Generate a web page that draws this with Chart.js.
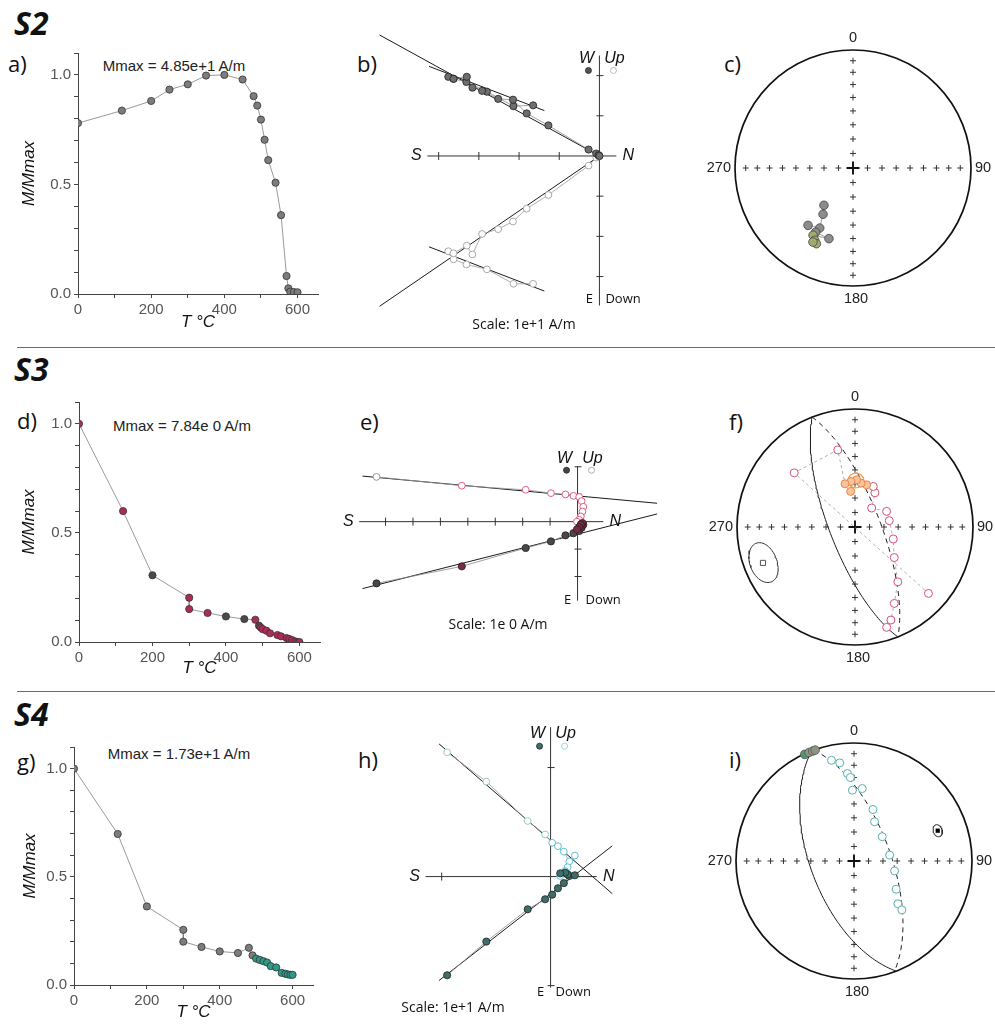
<!DOCTYPE html>
<html>
<head>
<meta charset="utf-8">
<script src="https://cdn.jsdelivr.net/npm/chart.js@4.4.0/dist/chart.umd.min.js"></script>
<style>
  body { margin: 0; background: #fff; }
  #page { position: relative; width: 995px; height: 1025px; overflow: hidden; }
  canvas { position: absolute; }
  .lbl { position: absolute; font-family: "Open Sans", sans-serif; color: #111; white-space: nowrap; line-height: 1; }
  .sec { font-weight: 700; font-style: italic; font-size: 32px; }
  .pan { font-size: 22px; }
  .mmax { font-family: "Liberation Sans", Arial, sans-serif; font-size: 15px; color: #222; transform: translate(-50%, -50%); }
  .rule { position: absolute; left: 17px; right: 0; height: 1px; background: #6a6a6a; }
</style>
</head>
<body>
<div id="page">
  <div class="lbl sec" style="left:14px;top:7px">S2</div>
  <div class="lbl sec" style="left:14px;top:353px">S3</div>
  <div class="lbl sec" style="left:14px;top:698px">S4</div>
  <div class="rule" style="top:347px"></div>
  <div class="rule" style="top:691px"></div>

  <div class="lbl pan" style="left:8px;top:52px">a)</div>
  <div class="lbl pan" style="left:357px;top:52px">b)</div>
  <div class="lbl pan" style="left:724px;top:52px">c)</div>
  <div class="lbl pan" style="left:17px;top:409px">d)</div>
  <div class="lbl pan" style="left:360px;top:410px">e)</div>
  <div class="lbl pan" style="left:729px;top:410px">f)</div>
  <div class="lbl pan" style="left:17px;top:750px">g)</div>
  <div class="lbl pan" style="left:358px;top:748px">h)</div>
  <div class="lbl pan" style="left:729px;top:748px">i)</div>

  <div class="lbl mmax" style="left:174px;top:65px">Mmax = 4.85e+1 A/m</div>
  <div class="lbl mmax" style="left:182px;top:425px">Mmax = 7.84e 0 A/m</div>
  <div class="lbl mmax" style="left:179px;top:753px">Mmax = 1.73e+1 A/m</div>

  <canvas id="cA"></canvas><canvas id="cB"></canvas><canvas id="cC"></canvas>
  <canvas id="cD"></canvas><canvas id="cE"></canvas><canvas id="cF"></canvas>
  <canvas id="cG"></canvas><canvas id="cH"></canvas><canvas id="cI"></canvas>
</div>
<script>
const D2R = Math.PI / 180;

// ---- thermal demagnetisation curves: temperature (°C) and M/Mmax
const aTemp = [0, 120, 200, 250, 300, 350, 400, 450, 480, 490, 500, 510, 520, 540, 555, 570, 575, 580, 590, 600];
const aMag  = [0.78, 0.837, 0.881, 0.933, 0.957, 0.997, 1.0, 0.979, 0.903, 0.86, 0.796, 0.704, 0.611, 0.508, 0.36, 0.082, 0.026, 0.011, 0.009, 0.008];
const dTemp = [0, 120, 200, 300, 300, 350, 400, 450, 480, 490, 495, 500, 510, 520, 540, 550, 565, 572, 580, 588, 594, 600];
const dMag  = [1.0, 0.60, 0.306, 0.203, 0.151, 0.133, 0.117, 0.105, 0.102, 0.075, 0.066, 0.059, 0.052, 0.040, 0.032, 0.026, 0.018, 0.014, 0.009, 0.003, 0.0, 0.0];
const gTemp = [0, 120, 200, 300, 300, 350, 400, 450, 480, 490, 500, 510, 520, 530, 540, 555, 570, 580, 587, 594, 600];
const gMag  = [1.0, 0.698, 0.363, 0.255, 0.20, 0.176, 0.155, 0.148, 0.172, 0.137, 0.122, 0.116, 0.110, 0.104, 0.087, 0.081, 0.056, 0.052, 0.049, 0.047, 0.047];

// ---- Zijderveld components (in units of the scale bar): North, West, Up
const bNorth = [-1.65, -2.14, -2.80, -3.31, -3.63, -3.76, -3.63, -3.30, -3.16, -2.92, -2.52, -2.15, -1.81, -1.27, -0.27, -0.08, -0.02, 0.0];
const bWest  = [1.26, 1.24, 1.60, 1.84, 1.92, 1.97, 1.92, 1.97, 1.70, 1.62, 1.42, 1.40, 1.06, 0.76, 0.16, 0.06, 0.02, 0.0];
const bUp    = [-3.18, -3.18, -2.82, -2.70, -2.57, -2.37, -2.42, -2.23, -2.45, -1.94, -1.82, -1.63, -1.31, -0.97, -0.24, -0.04, -0.01, 0.0];
const bFits  = [[-5.47, 3.01, 0, 0], [-4.24, 2.23, -1.37, 1.13], [-5.47, -3.74, 0, 0], [-4.24, -2.26, -1.37, -3.36]];

const eNorth = [-7.33, -4.22, -1.89, -0.97, -0.44, -0.15, 0.06, 0.15, 0.21, 0.18, 0.12, 0.06, -0.02];
const eWest  = [-2.25, -1.63, -0.96, -0.72, -0.50, -0.42, -0.34, -0.22, -0.11, -0.05, -0.10, -0.20, -0.28];
const eUp    = [1.63, 1.31, 1.16, 1.04, 0.99, 0.94, 0.90, 0.75, 0.54, 0.37, 0.19, 0.07, 0.0];
const eFits  = [[-7.84, 1.66, 2.9, 0.67], [-7.84, -2.44, 2.9, 0.28]];

const hNorth = [-0.95, -0.59, -0.21, -0.05, 0.015, 0.068, 0.122, 0.172, 0.223, 0.157, 0.134, 0.089];
const hWest  = [-0.905, -0.596, -0.30, -0.208, -0.166, -0.107, -0.06, 0.006, 0.012, 0.02, 0.036, 0.03];
const hUp    = [1.14, 0.872, 0.51, 0.386, 0.31, 0.279, 0.228, 0.139, 0.193, 0.086, 0.05, 0.006];
const hFits  = [[-1.024, 1.217, 0.567, -0.157], [-1.024, -0.953, 0.567, 0.282]];

// ---- equal-area directions: declination / inclination (negative = upper hemisphere)
const cDec = [217.9, 212.9, 209.0, 218.1, 210.2, 198.8, 210.7, 207.9, 205.8, 208.4];
const cInc = [57.1, 51.4, 41.4, 38.2, 37.1, 36.9, 34.1, 31.3, 29.5, 29.4];

const fDec = [162.5, 158.9, 152.8, 142.0, 127.9, 107.4, 79.5, 63.7, 41.2, 30.2, 24.3, 15.4, 7.8, 2.0, 355.0, 353.1, 347.0, 347.4, 311.7, 132.1];
const fInc = [-11.8, -16.6, -28.0, -40.7, -55.3, -62.2, -65.9, -65.6, -72.6, -62.5, -59.1, -59.6, -59.2, -57.1, -58.2, -65.2, -59.2, -33.5, -31.6, -17.2];
const fMean = [1.2, -57.6, 5.2];          // dec, inc, a95
const fPole = [248.7, -17.4, 11.5];       // dec, inc, a95
const fCircle = [68.7, 17.4];             // pole of fitted plane

const iFilledDec = [335.2, 337.5, 339.4, 340.7];
const iFilledInc = [0.5, 0.5, 0.5, 0.5];
const iOpenDec = [347.4, 351.7, 355.7, 357.5, 358.7, 6.5, 20.2, 27.7, 49.3, 80.5, 103.8, 123.8, 134.3, 135.6];
const iOpenInc = [-13.6, -17.1, -26.6, -29.9, -39.8, -38.2, -51.6, -59.2, -64.2, -65.0, -61.0, -54.6, -46.9, -41.6];
const iPole = [70.1, 25.5, 3.6];
const iCircleSolid = [69.0, 30.0];
const iCircleDashed = [70.1, 25.5];

// ---------------------------------------------------------------------------
const tickFont = { family: 'Liberation Sans', size: 15 };
const titleFont = { family: 'Liberation Sans', size: 17, style: 'italic' };

function demagChart(id, temps, mags, box, colorFn) {
  const cv = document.getElementById(id);
  const top = box.top - 13, bottom = box.titleY + 16;
  cv.width = 330; cv.height = bottom - top;
  cv.style.left = '0px'; cv.style.top = top + 'px';
  new Chart(cv, {
    type: 'scatter',
    data: { datasets: [{
      data: temps.map((t, i) => ({ x: t, y: mags[i] })),
      showLine: true, borderColor: '#808080', borderWidth: 0.8,
      pointRadius: 3.6, pointBorderWidth: 0.8, pointBorderColor: '#333',
      pointBackgroundColor: colorFn
    }] },
    options: {
      responsive: false, animation: false,
      layout: { padding: { top: 13, right: 330 - box.right, left: 0, bottom: 0 } },
      plugins: { legend: { display: false }, tooltip: { enabled: false } },
      scales: {
        x: {
          min: 0, max: 656,
          afterFit: s => { s.height = bottom - box.bottom; },
          ticks: { stepSize: 100, includeBounds: false, autoSkip: false, maxRotation: 0, padding: 3, color: '#555', font: tickFont,
                   callback: v => (v % 200 === 0 ? v : '') },
          grid: { drawOnChartArea: false, tickLength: 4, color: '#444' },
          border: { color: '#444' },
          title: { display: true, text: 'T °C', color: '#111', font: titleFont, padding: { top: 0, bottom: 5.8 } }
        },
        y: {
          min: 0, max: 1.1,
          afterFit: s => { s.width = box.left; },
          ticks: { stepSize: 0.1, includeBounds: false, autoSkip: false, padding: 3, color: '#555', font: tickFont,
                   callback: v => (Math.round(v * 10) % 5 === 0 ? v.toFixed(1) : '') },
          grid: { drawOnChartArea: false, tickLength: 4, color: '#444' },
          border: { color: '#444' },
          title: { display: true, text: 'M/Mmax', color: '#111', font: titleFont, padding: { top: box.titleX - 10.2, bottom: 0 } }
        }
      }
    }
  });
}

demagChart('cA', aTemp, aMag, { left: 78, top: 53, bottom: 294, right: 318, titleY: 322, titleX: 29 }, '#7c7c7c');
demagChart('cD', dTemp, dMag, { left: 79, top: 402, bottom: 642, right: 320, titleY: 668, titleX: 29 },
  c => ([200, 400, 450, 490].includes(c.raw.x) ? '#4a4a4a' : '#b02a58'));
demagChart('cG', gTemp, gMag, { left: 74, top: 747, bottom: 985, right: 313, titleY: 1012, titleX: 30 },
  c => (c.raw.x >= 500 ? '#2f9a88' : '#7c7c7c'));

// ---------------------------------------------------------------------------
const zijAxes = {
  id: 'zijAxes',
  beforeDatasetsDraw(chart, args, o) {
    const { ctx, scales: { x, y } } = chart;
    const px = v => x.getPixelForValue(v), py = v => y.getPixelForValue(v);
    const x0 = px(0), y0 = py(0);
    const left = px(o.h[0]), right = px(o.h[1]), top = py(o.v[1]), bot = py(o.v[0]);
    ctx.save();
    ctx.strokeStyle = '#333'; ctx.lineWidth = 1;
    ctx.beginPath();
    ctx.moveTo(left, y0); ctx.lineTo(right, y0);
    ctx.moveTo(x0, top); ctx.lineTo(x0, bot);
    for (let t = Math.ceil(o.h[0]); t <= o.h[1]; t++) if (t) { ctx.moveTo(px(t), y0 - 4); ctx.lineTo(px(t), y0 + 4); }
    for (let t = Math.ceil(o.v[0]); t <= o.v[1]; t++) if (t) { ctx.moveTo(x0 - 3, py(t)); ctx.lineTo(x0 + 4, py(t)); }
    ctx.stroke();

    ctx.fillStyle = '#111'; ctx.textBaseline = 'middle'; ctx.textAlign = 'center';
    ctx.font = 'italic 16px "Liberation Sans"';
    ctx.fillText('S', left - 11, y0);
    ctx.fillText('N', right + 12, y0);
    ctx.fillText('W', x0 - 13, top + o.lab[0]);
    ctx.fillText('Up', x0 + 15, top + o.lab[0]);
    ctx.font = '13px "Open Sans"';
    ctx.fillText('E', x0 - 10, bot + o.lab[2]);
    ctx.textAlign = 'left';
    ctx.fillText('Down', x0 + o.lab[3], bot + o.lab[2]);
    ctx.textAlign = 'center';
    ctx.font = '14px "Open Sans"';
    ctx.fillText(o.scaleText, o.scalePos[0], o.scalePos[1]);

    ctx.lineWidth = 0.8;
    ctx.beginPath(); ctx.arc(x0 - 11, top + o.lab[1], 3, 0, 2 * Math.PI);
    ctx.fillStyle = o.fill; ctx.fill(); ctx.strokeStyle = '#222'; ctx.stroke();
    ctx.beginPath(); ctx.arc(x0 + 14, top + o.lab[1], 3, 0, 2 * Math.PI);
    ctx.fillStyle = '#fff'; ctx.fill(); ctx.strokeStyle = o.open; ctx.stroke();
    ctx.restore();
  }
};

function zijChart(id, o) {
  const cv = document.getElementById(id);
  cv.width = o.w; cv.height = o.h;
  cv.style.left = o.left + 'px'; cv.style.top = o.top + 'px';
  const ox = o.ox - o.left, oy = o.oy - o.top;
  const fits = o.fits.map(f => ({
    data: [{ x: f[0], y: f[1] }, { x: f[2], y: f[3] }],
    showLine: true, borderColor: '#1a1a1a', borderWidth: 1, pointRadius: 0, order: 3
  }));
  new Chart(cv, {
    type: 'scatter',
    data: { datasets: [
      { data: o.N.map((n, i) => ({ x: n, y: o.W[i] })), showLine: true, borderColor: '#8a8a8a', borderWidth: 0.8,
        pointRadius: 3.6, pointBorderWidth: 0.8, pointBorderColor: '#222', pointBackgroundColor: o.fillFn, order: 0 },
      { data: o.N.map((n, i) => ({ x: n, y: o.Up[i] })), showLine: true, borderColor: '#9a9a9a', borderWidth: 0.8,
        pointRadius: 3.4, pointBorderWidth: 1, pointBorderColor: o.openFn, pointBackgroundColor: '#fff', order: 1 },
      ...fits
    ] },
    options: {
      responsive: false, animation: false, layout: { padding: 0 },
      plugins: {
        legend: { display: false }, tooltip: { enabled: false },
        zijAxes: { h: o.hAxis, v: o.vAxis, lab: o.lab, fill: o.legendFill, open: o.legendOpen, scaleText: o.scaleText, scalePos: o.scalePos }
      },
      scales: {
        x: { display: false, min: -ox / o.unit, max: (o.w - ox) / o.unit },
        y: { display: false, min: -(o.h - oy) / o.unit, max: oy / o.unit }
      }
    },
    plugins: [zijAxes]
  });
}

zijChart('cB', {
  left: 330, top: 0, w: 330, h: 330, ox: 602.7, oy: 155.7, unit: 41.45,
  N: bNorth, W: bWest, Up: bUp, fits: bFits, hAxis: [-4.28, 0.42], vAxis: [-3.72, 2.5],
  lab: [3, 15, -6, 6], fillFn: '#6e6e6e', openFn: '#a8a8a8', legendFill: '#555', legendOpen: '#aaa',
  scaleText: 'Scale: 1e+1 A/m', scalePos: [194, 325]
});
zijChart('cE', {
  left: 330, top: 340, w: 335, h: 340, ox: 580, oy: 522, unit: 28.27,
  N: eNorth, W: eWest, Up: eUp, fits: eFits, hAxis: [-7.96, 0.94], vAxis: [-2.88, 2.02],
  lab: [-8, 4, 0, 8], fillFn: c => (c.dataIndex === 1 || c.dataIndex > 6 ? '#7b2a45' : '#4d4548'),
  openFn: c => (c.dataIndex === 0 ? '#999' : '#dd5f7e'), legendFill: '#444', legendOpen: '#999',
  scaleText: 'Scale: 1e 0 A/m', scalePos: [168, 285]
});
zijChart('cH', {
  left: 330, top: 680, w: 330, h: 345, ox: 552.3, oy: 877.3, unit: 112.3,
  N: hNorth, W: hWest, Up: hUp, fits: hFits, hAxis: [-1.148, 0.424], vAxis: [-1.018, 1.37],
  lab: [6, 19, 5, 5], fillFn: '#3d6f6a', openFn: c => (c.dataIndex < 4 ? '#9cc8c4' : '#5cc0d0'),
  legendFill: '#3d6f6a', legendOpen: '#8ccccc',
  scaleText: 'Scale: 1e+1 A/m', scalePos: [123, 328]
});

// ---------------------------------------------------------------------------
function proj(dec, inc) {
  const r = Math.SQRT2 * Math.sin((90 - Math.abs(inc)) / 2 * D2R);
  return { x: r * Math.sin(dec * D2R), y: r * Math.cos(dec * D2R) };
}
function vec(dec, inc) {
  return [Math.cos(inc * D2R) * Math.cos(dec * D2R), Math.cos(inc * D2R) * Math.sin(dec * D2R), Math.sin(inc * D2R)];
}
function toDir(v) {
  return [Math.atan2(v[1], v[0]) / D2R, Math.asin(Math.max(-1, Math.min(1, v[2]))) / D2R];
}
function frame(dec, inc) {
  const u = [-Math.sin(dec * D2R), Math.cos(dec * D2R), 0];
  const w = [-Math.sin(inc * D2R) * Math.cos(dec * D2R), -Math.sin(inc * D2R) * Math.sin(dec * D2R), Math.cos(inc * D2R)];
  return [u, w];
}
// trace of the plane normal to a pole, lower or upper hemisphere half
function greatCircle(pole, half) {
  const [u, w] = frame(pole[0], pole[1]);
  const pts = [];
  for (let t = 0; t <= 180; t += 2) {
    const c = Math.cos(t * D2R), s = Math.sin(t * D2R);
    const p = proj(...toDir([0, 1, 2].map(k => u[k] * c + w[k] * s)));
    pts.push(half === 'lower' ? p : { x: -p.x, y: -p.y });
  }
  return pts;
}
// small circle (confidence cone) about a direction
function cone(dir) {
  const a = vec(dir[0], dir[1]);
  const [u, w] = frame(dir[0], dir[1]);
  const ca = Math.cos(dir[2] * D2R), sa = Math.sin(dir[2] * D2R);
  const pts = [];
  for (let t = 0; t <= 360; t += 6) {
    const c = Math.cos(t * D2R), s = Math.sin(t * D2R);
    pts.push(proj(...toDir([0, 1, 2].map(k => a[k] * ca + (u[k] * c + w[k] * s) * sa))));
  }
  return pts;
}

const stereoNet = {
  id: 'stereoNet',
  beforeDatasetsDraw(chart) {
    const { ctx, scales: { x, y } } = chart;
    const cx = x.getPixelForValue(0), cy = y.getPixelForValue(0);
    const R = x.getPixelForValue(1) - cx;
    ctx.save();
    ctx.strokeStyle = '#222'; ctx.lineWidth = 0.9;
    ctx.beginPath();
    for (let inc = 10; inc < 90; inc += 10) {
      const r = Math.SQRT2 * Math.sin((90 - inc) / 2 * D2R) * R;
      for (const [dx, dy] of [[0, -1], [1, 0], [0, 1], [-1, 0]]) {
        const qx = cx + dx * r, qy = cy + dy * r;
        ctx.moveTo(qx - 3, qy); ctx.lineTo(qx + 3, qy);
        ctx.moveTo(qx, qy - 3); ctx.lineTo(qx, qy + 3);
      }
    }
    ctx.stroke();
    ctx.lineWidth = 1.9; ctx.strokeStyle = '#111';
    ctx.beginPath();
    ctx.moveTo(cx - 6.5, cy); ctx.lineTo(cx + 6.5, cy);
    ctx.moveTo(cx, cy - 6.5); ctx.lineTo(cx, cy + 6.5);
    ctx.stroke();
    ctx.lineWidth = 1.7;
    ctx.beginPath(); ctx.arc(cx, cy, R, 0, 2 * Math.PI); ctx.stroke();

    ctx.fillStyle = '#222'; ctx.font = '14.5px "Liberation Sans"'; ctx.textBaseline = 'middle';
    ctx.textAlign = 'center';
    ctx.fillText('0', cx, cy - R - 12);
    ctx.fillText('180', cx + 3, cy + R + 13);
    ctx.textAlign = 'left'; ctx.fillText('90', cx + R + 4, cy);
    ctx.textAlign = 'right'; ctx.fillText('270', cx - R - 4, cy);
    ctx.restore();
  }
};

function stereoChart(id, o, datasets) {
  const cv = document.getElementById(id);
  cv.width = 335; cv.height = o.h;
  cv.style.left = '660px'; cv.style.top = o.top + 'px';
  const R = 118;
  new Chart(cv, {
    type: 'scatter',
    data: { datasets },
    options: {
      responsive: false, animation: false,
      layout: { padding: { left: o.cx - R - 660, top: o.cy - R - o.top, right: 335 - (o.cx + R - 660), bottom: o.h - (o.cy + R - o.top) } },
      plugins: { legend: { display: false }, tooltip: { enabled: false } },
      scales: {
        x: { display: false, min: -1, max: 1 },
        y: { display: false, min: -1, max: 1 }
      }
    },
    plugins: [stereoNet]
  });
}
const arc = (pts, dashed) => ({ data: pts, showLine: true, borderColor: '#1a1a1a', borderWidth: 1, borderDash: dashed ? [5, 4] : [], pointRadius: 0, order: 5, clip: false });

stereoChart('cC', { top: 0, h: 330, cx: 853, cy: 168 }, [
  { data: cDec.map((d, i) => proj(d, cInc[i])), showLine: true, borderColor: '#8a8a8a', borderWidth: 0.8,
    pointRadius: 4.3, pointBorderWidth: 0.8, pointBorderColor: '#444',
    pointBackgroundColor: c => (c.dataIndex >= 6 ? '#a3ab6e' : '#8c8c8c'), order: 0 }
]);

stereoChart('cF', { top: 340, h: 340, cx: 855, cy: 527 }, [
  { data: fDec.map((d, i) => proj(d, fInc[i])), showLine: true, borderColor: '#9a9a9a', borderWidth: 0.8, borderDash: [3, 3],
    pointRadius: 4, pointBorderWidth: 1,
    pointBorderColor: c => { const d = fDec[c.dataIndex], i = fInc[c.dataIndex]; return (i < -55 && (d > 340 || d < 20)) ? '#e8864a' : '#d8507a'; },
    pointBackgroundColor: c => { const d = fDec[c.dataIndex], i = fInc[c.dataIndex]; return (i < -55 && (d > 340 || d < 20)) ? '#f6c49a' : '#fff'; },
    order: 0 },
  { data: [proj(fPole[0], fPole[1])], pointStyle: 'rect', pointRadius: 3.6, pointBorderWidth: 1, pointBorderColor: '#555', pointBackgroundColor: '#fff', order: 1 },
  { data: cone(fPole), showLine: true, borderColor: '#333', borderWidth: 1, pointRadius: 0, order: 2 },
  { data: cone(fMean), showLine: true, borderColor: '#f0a040', borderWidth: 1.2, pointRadius: 0, order: 2 },
  arc(greatCircle(fCircle, 'lower'), false),
  arc(greatCircle(fCircle, 'upper'), true)
]);

stereoChart('cI', { top: 680, h: 345, cx: 854, cy: 861 }, [
  { data: iFilledDec.map((d, i) => proj(d, iFilledInc[i])), pointRadius: 4.3, pointBorderWidth: 0.8,
    pointBorderColor: '#555', pointBackgroundColor: c => (c.dataIndex === 0 ? '#4a9a6a' : '#8e9682'), order: 0, clip: false },
  { data: iOpenDec.map((d, i) => proj(d, iOpenInc[i])), pointRadius: 4, pointBorderWidth: 1,
    pointBorderColor: '#5aaeb0', pointBackgroundColor: '#fff', order: 0 },
  { data: [proj(iPole[0], iPole[1])], pointStyle: 'rect', pointRadius: 3, pointBorderWidth: 0, pointBackgroundColor: '#000', order: 1 },
  { data: cone(iPole), showLine: true, borderColor: '#222', borderWidth: 1, pointRadius: 0, order: 2 },
  arc(greatCircle(iCircleSolid, 'lower'), false),
  arc(greatCircle(iCircleDashed, 'upper'), true)
]);
</script>
</body>
</html>
